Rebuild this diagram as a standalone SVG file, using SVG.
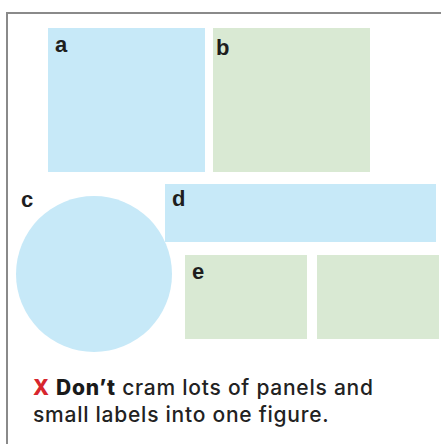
<svg xmlns="http://www.w3.org/2000/svg" width="441" height="444" viewBox="0 0 441 444">
<style>
.blue{fill:#c7e9f8}
.green{fill:#d9e9d3}
.lbl{font-family:"Liberation Sans",Arial,sans-serif;font-weight:bold;font-size:22px;fill:#1e1e1e}
.cap{font-family:Inter,"Open Sans",sans-serif;font-size:21px;font-weight:500;letter-spacing:0.75px;fill:#222}
</style>
<rect width="441" height="444" fill="#fff"/>
<g id="frame"><path d="M7 444 V13 H441" fill="none" stroke="#8a8a8a" stroke-width="2"/></g>
<g id="a"><rect class="blue" x="48" y="28" width="157" height="144"/><text class="lbl" x="55" y="52">a</text></g>
<g id="b"><rect class="green" x="213" y="28" width="157" height="144"/><text class="lbl" x="216" y="55">b</text></g>
<g id="c"><circle class="blue" cx="94" cy="274" r="78"/><text class="lbl" x="21" y="207">c</text></g>
<g id="d"><rect class="blue" x="165" y="184" width="271" height="58"/><text class="lbl" x="172" y="206">d</text></g>
<g id="e"><rect class="green" x="185" y="255" width="122" height="84"/><text class="lbl" x="192" y="279">e</text></g>
<g id="f"><rect class="green" x="317" y="255" width="122" height="84"/></g>
<g id="caption">
<text class="cap" x="33" y="395"><tspan fill="#d7262e" font-weight="800">X</tspan> <tspan font-weight="800" fill="#1a1a1a">Don’t</tspan> cram lots of panels and</text>
<text class="cap" x="33" y="422">small labels into one figure.</text>
</g>
</svg>
